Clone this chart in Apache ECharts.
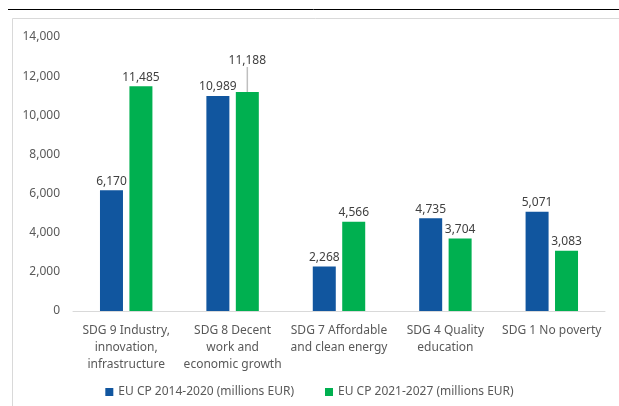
<!DOCTYPE html>
<html>
<head>
<meta charset="utf-8">
<script src="https://cdn.jsdelivr.net/npm/echarts@6/dist/echarts.min.js"></script>
<style>
  html, body { margin: 0; padding: 0; background: #fff; }
  #chart { width: 619px; height: 406px; }
</style>
</head>
<body>
<div id="chart"></div>
<script>
// data
const categories = [
  'SDG 9 Industry,\ninnovation,\ninfrastructure',
  'SDG 8 Decent\nwork and\neconomic growth',
  'SDG 7 Affordable\nand clean energy',
  'SDG 4 Quality\neducation',
  'SDG 1 No poverty'
]
const cp2014 = [6170, 10989, 2268, 4735, 5071]
const cp2021 = [11485, 11188, 4566, 3704, 3083]
const seriesNames = ['EU CP 2014-2020 (millions EUR)', 'EU CP 2021-2027 (millions EUR)']

const font = '"Noto Sans", sans-serif'
const textColor = '#595959'
const fmt = (v) => v.toLocaleString('en-US')

// only the 11,188 label is lifted with a leader line
const cp2021Items = cp2021.map((v, i) => (i === 1
  ? { value: v, labelLine: { show: true, lineStyle: { color: '#bfbfbf', width: 1.5 } } }
  : v))

const chart = echarts.init(document.getElementById('chart'))
const option = {
  animation: false,
  color: ['#11569F', '#00B050'],
  textStyle: { fontFamily: font },
  graphic: [
    { type: 'line', shape: { x1: 8, y1: 9.5, x2: 619, y2: 9.5 }, style: { stroke: '#000', lineWidth: 1 } },
    { type: 'line', shape: { x1: 12.5, y1: 18.5, x2: 619, y2: 18.5 }, style: { stroke: '#d9d9d9', lineWidth: 1 } },
    { type: 'line', shape: { x1: 12.5, y1: 18.5, x2: 12.5, y2: 406 }, style: { stroke: '#d9d9d9', lineWidth: 1 } }
  ],
  grid: { left: 73, right: 14, top: 37, bottom: 95 },
  legend: {
    bottom: 3,
    left: 'center',
    itemWidth: 8,
    itemHeight: 8,
    itemGap: 31,
    icon: 'rect',
    textStyle: { color: textColor, fontSize: 12, fontFamily: font },
    data: seriesNames
  },
  xAxis: {
    type: 'category',
    data: categories,
    axisLine: { lineStyle: { color: '#d9d9d9' } },
    axisTick: { show: false },
    axisLabel: { color: textColor, fontSize: 12, lineHeight: 17, interval: 0, margin: 11, fontFamily: font }
  },
  yAxis: {
    type: 'value',
    min: 0,
    max: 14000,
    interval: 2000,
    axisLine: { show: false },
    axisTick: { show: false },
    splitLine: { show: false },
    axisLabel: { color: textColor, fontSize: 12, margin: 13, formatter: fmt, fontFamily: font }
  },
  series: [
    {
      name: seriesNames[0],
      type: 'bar',
      data: cp2014,
      barWidth: 23,
      barGap: '28%',
      label: { show: true, position: 'top', distance: 3, color: '#404040', fontSize: 12, formatter: (p) => fmt(p.value) }
    },
    {
      name: seriesNames[1],
      type: 'bar',
      data: cp2021Items,
      barWidth: 23,
      label: { show: true, position: 'top', distance: 3, color: '#404040', fontSize: 12, formatter: (p) => fmt(p.value) },
      labelLayout: (p) => (p.dataIndex === 1 ? { dy: -22 } : {})
    }
  ]
}
chart.setOption(option)
</script>
</body>
</html>
